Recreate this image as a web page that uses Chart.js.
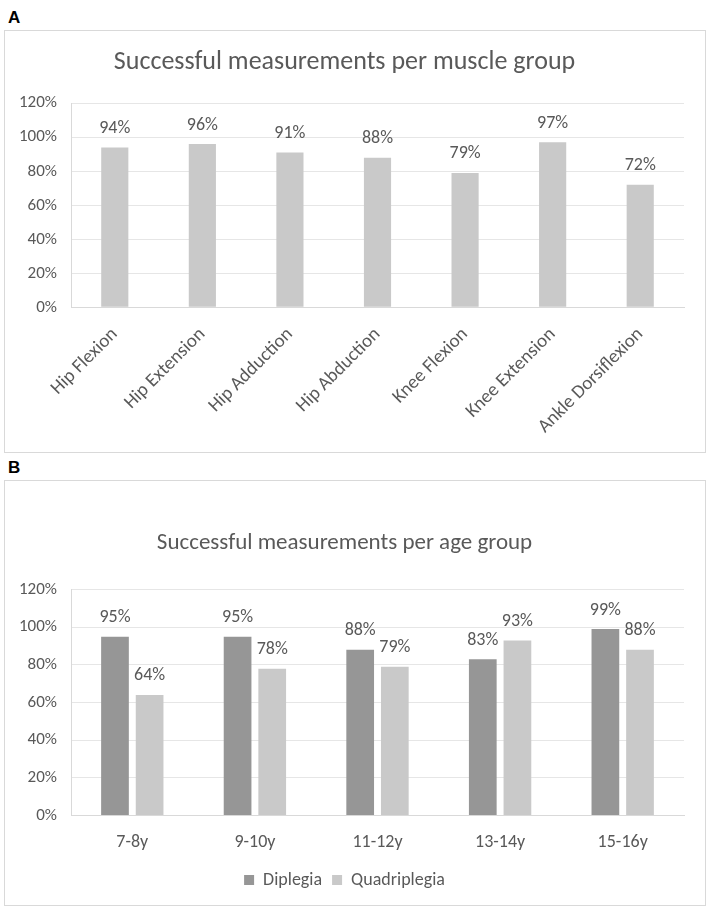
<!DOCTYPE html>
<html>
<head>
<meta charset="utf-8">
<script src="https://cdn.jsdelivr.net/npm/chart.js@4.4.1/dist/chart.umd.min.js"></script>
<style>
  body { margin: 0; background: #fff; font-family: Carlito, Lato, "Open Sans", sans-serif; }
  .lab { position: absolute; font: bold 17px "Liberation Sans", Arial, sans-serif; color: #000; }
  .box { position: absolute; border: 1px solid #d9d9d9; background: #fff; }
  canvas { display: block; }
</style>
</head>
<body>
<div class="lab" style="left:8px; top:8px;">A</div>
<div class="box" style="left:4px; top:30px; width:700px; height:421px;">
  <canvas id="chartA" width="700" height="421"></canvas>
</div>
<div class="lab" style="left:8px; top:458px;">B</div>
<div class="box" style="left:4px; top:480px; width:700px; height:424px;">
  <canvas id="chartB" width="700" height="424"></canvas>
</div>
<script>
// panel A
const muscleGroups = ['Hip Flexion', 'Hip Extension', 'Hip Adduction', 'Hip Abduction', 'Knee Flexion', 'Knee Extension', 'Ankle Dorsiflexion'];
const muscleSuccess = [94, 96, 91, 88, 79, 97, 72];

// panel B
const ageGroups = ['7-8y', '9-10y', '11-12y', '13-14y', '15-16y'];
const diplegia = [95, 95, 88, 83, 99];
const quadriplegia = [64, 78, 79, 93, 88];

const yTicks = [0, 20, 40, 60, 80, 100, 120];

const FONT = 'Carlito, Lato, "Open Sans", sans-serif';
const TEXT = '#595959';

// draws the value above every bar
const valueLabels = {
    id: 'valueLabels',
    afterDatasetsDraw(chart) {
        const ctx = chart.ctx;
        ctx.save();
        ctx.font = '18px ' + FONT;
        ctx.fillStyle = TEXT;
        ctx.textAlign = 'center';
        ctx.textBaseline = 'middle';
        chart.data.datasets.forEach((ds, i) => {
            chart.getDatasetMeta(i).data.forEach((bar, j) => {
                ctx.fillText(ds.data[j] + '%', bar.x, bar.y - 19);
            });
        });
        ctx.restore();
    }
};

function yScale() {
    return {
        min: 0, max: 120,
        afterBuildTicks: axis => { axis.ticks = yTicks.map(v => ({ value: v })); },
        ticks: { color: TEXT, font: { family: FONT, size: 17 }, padding: 14, callback: v => v + '%' },
        grid: { color: '#e6e6e6', drawTicks: false },
        border: { color: '#d9d9d9' }
    };
}

new Chart(document.getElementById('chartA'), {
    type: 'bar',
    data: {
        labels: muscleGroups,
        datasets: [{
            data: muscleSuccess,
            backgroundColor: '#c9c9c9',
            categoryPercentage: 1,
            barPercentage: 0.31
        }]
    },
    options: {
        responsive: false,
        animation: false,
        layout: { padding: { left: 0, right: 21, top: 0, bottom: 6 } },
        plugins: {
            legend: { display: false },
            tooltip: { enabled: false },
            title: {
                display: true,
                text: 'Successful measurements per muscle group',
                color: TEXT,
                font: { family: FONT, size: 26, weight: 'normal' },
                padding: { top: 16, bottom: 25 }
            }
        },
        scales: {
            x: {
                ticks: { color: TEXT, font: { family: FONT, size: 19 }, minRotation: 45, maxRotation: 45, padding: 8 },
                grid: { display: false },
                border: { color: '#d9d9d9' }
            },
            y: yScale()
        }
    },
    plugins: [valueLabels]
});

new Chart(document.getElementById('chartB'), {
    type: 'bar',
    data: {
        labels: ageGroups,
        datasets: [{
            label: 'Diplegia',
            data: diplegia,
            backgroundColor: '#969696',
            categoryPercentage: 0.565,
            barPercentage: 0.8
        }, {
            label: 'Quadriplegia',
            data: quadriplegia,
            backgroundColor: '#c9c9c9',
            categoryPercentage: 0.565,
            barPercentage: 0.8
        }]
    },
    options: {
        responsive: false,
        animation: false,
        layout: { padding: { left: 0, right: 21, top: 0, bottom: 6 } },
        plugins: {
            legend: {
                position: 'bottom',
                labels: { color: TEXT, font: { family: FONT, size: 18 }, boxWidth: 10, boxHeight: 10, padding: 10 }
            },
            tooltip: { enabled: false },
            title: {
                display: true,
                text: 'Successful measurements per age group',
                color: TEXT,
                font: { family: FONT, size: 23, weight: 'normal' },
                padding: { top: 48, bottom: 33 }
            }
        },
        scales: {
            x: {
                ticks: { color: TEXT, font: { family: FONT, size: 18 }, maxRotation: 0, padding: 8 },
                grid: { display: false },
                border: { color: '#d9d9d9' }
            },
            y: yScale()
        }
    },
    plugins: [valueLabels]
});
</script>
</body>
</html>
